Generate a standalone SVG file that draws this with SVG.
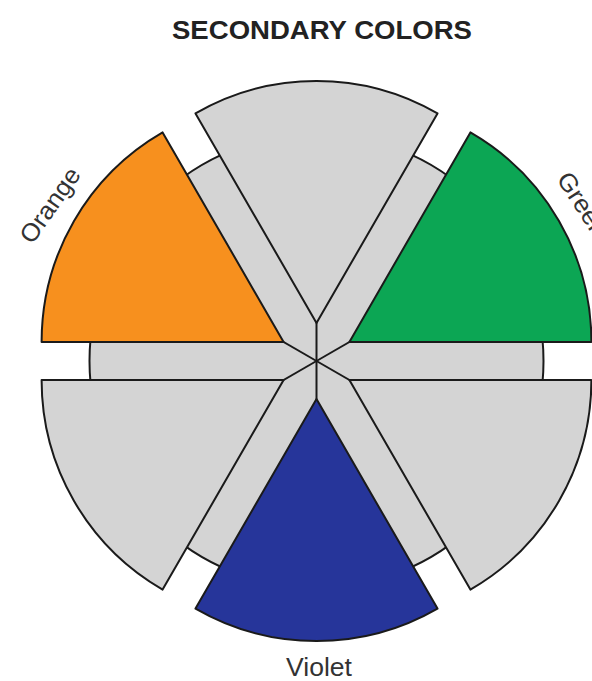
<svg xmlns="http://www.w3.org/2000/svg" width="592" height="681" viewBox="0 0 592 681">
<style>
  .s{stroke:#1a1a1a;stroke-width:2;stroke-linejoin:round}
  .gray{fill:#d4d4d4}
  .orange{fill:#f7901e}
  .green{fill:#0ca654}
  .violet{fill:#26359a}
  .lbl{font-family:"Liberation Sans",Arial,Helvetica,sans-serif;font-size:25px;fill:#333}
  .title{font-family:"Liberation Sans",Arial,Helvetica,sans-serif;font-size:25px;font-weight:bold;fill:#222}
</style>
<rect width="592" height="681" fill="#ffffff"/>
<text class="title" x="172" y="39" textLength="300" lengthAdjust="spacingAndGlyphs">SECONDARY COLORS</text>
<g id="background-wheel">
  <circle class="s gray" cx="316.5" cy="361" r="227"/>
</g>
<g id="spokes" class="s" fill="none">
  <line x1="316.5" y1="361" x2="513.1" y2="247.5"/>
  <line x1="316.5" y1="361" x2="316.5" y2="134"/>
  <line x1="316.5" y1="361" x2="119.9" y2="247.5"/>
  <line x1="316.5" y1="361" x2="119.9" y2="474.5"/>
  <line x1="316.5" y1="361" x2="316.5" y2="588"/>
  <line x1="316.5" y1="361" x2="513.1" y2="474.5"/>
</g>
<g id="sector-top">
  <path class="s gray" d="M316.5,323 L195.5,113.4 A242,242 0 0 1 437.5,113.4 Z"/>
</g>
<g id="sector-orange">
  <path class="s orange" d="M283.6,342 L41.6,342 A242,242 0 0 1 162.6,132.4 Z"/>
</g>
<g id="sector-green">
  <path class="s green" d="M349.4,342 L470.4,132.4 A242,242 0 0 1 591.4,342 Z"/>
</g>
<g id="sector-lower-right">
  <path class="s gray" d="M349.4,380 L591.4,380 A242,242 0 0 1 470.4,589.6 Z"/>
</g>
<g id="sector-violet">
  <path class="s violet" d="M316.5,399 L437.5,608.6 A242,242 0 0 1 195.5,608.6 Z"/>
</g>
<g id="sector-lower-left">
  <path class="s gray" d="M283.6,380 L162.6,589.6 A242,242 0 0 1 41.6,380 Z"/>
</g>
<g id="label-orange">
  <text class="lbl" text-anchor="middle" textLength="86" lengthAdjust="spacingAndGlyphs" transform="translate(57,210) rotate(-55)">Orange</text>
</g>
<g id="label-green">
  <text class="lbl" textLength="72" lengthAdjust="spacingAndGlyphs" transform="translate(556,179) rotate(57)">Green</text>
</g>
<g id="label-violet">
  <text class="lbl" x="319" y="676" text-anchor="middle" textLength="66" lengthAdjust="spacingAndGlyphs">Violet</text>
</g>
</svg>
